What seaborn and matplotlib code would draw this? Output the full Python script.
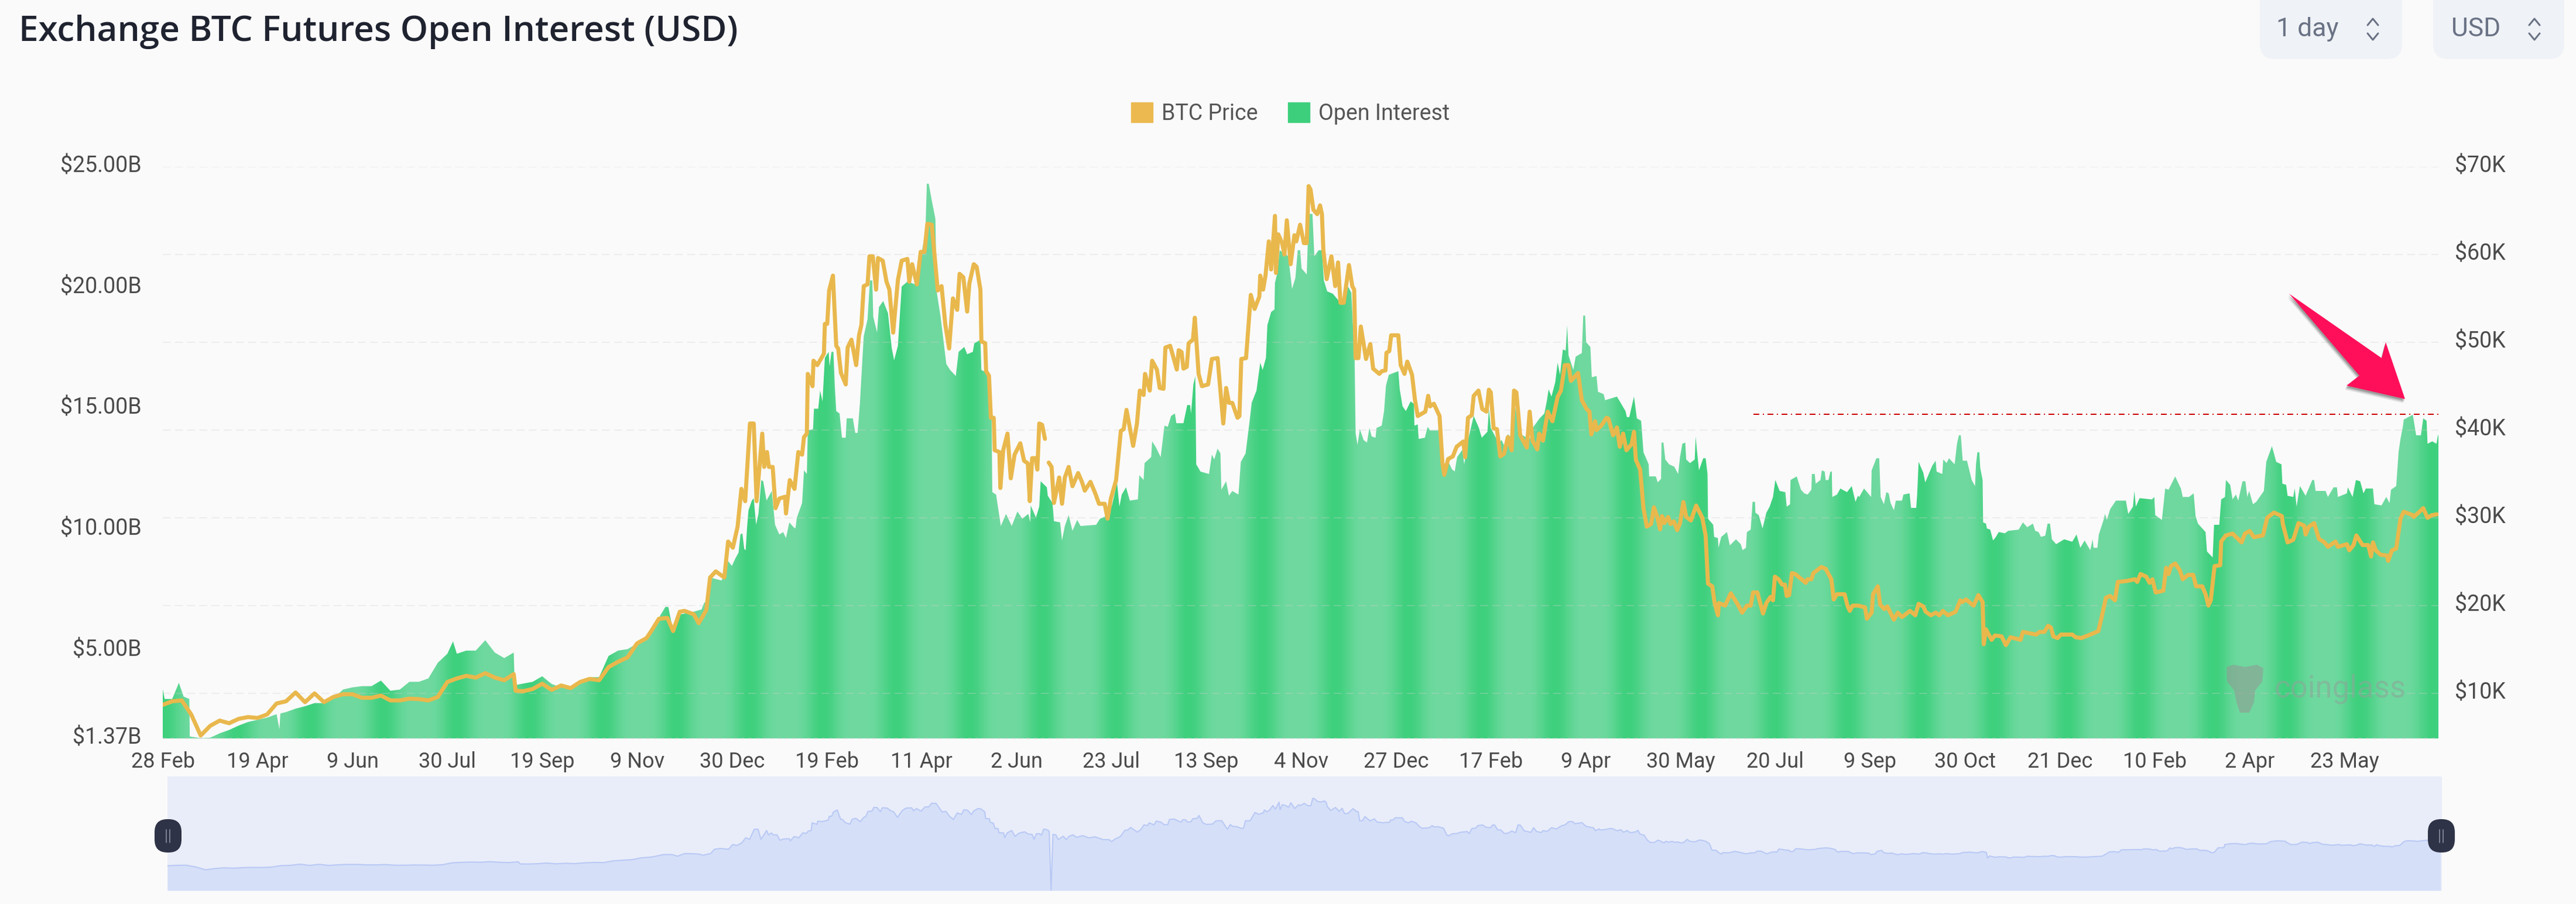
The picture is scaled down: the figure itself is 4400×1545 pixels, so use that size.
import numpy as np
import pandas as pd
import seaborn as sns
import matplotlib.pyplot as plt
from matplotlib.patches import FancyBboxPatch, Patch, Polygon
from matplotlib.transforms import ScaledTranslation

# x is measured in tenths of a tick interval: one labelled tick every 10 units
tick_labels = ['28 Feb', '19 Apr', '9 Jun', '30 Jul', '19 Sep', '9 Nov', '30 Dec', '19 Feb',
               '11 Apr', '2 Jun', '23 Jul', '13 Sep', '4 Nov', '27 Dec', '17 Feb', '9 Apr',
               '30 May', '20 Jul', '9 Sep', '30 Oct', '21 Dec', '10 Feb', '2 Apr', '23 May']
left_ticks = [1.37, 5, 10, 15, 20, 25]
left_labels = ['$1.37B', '$5.00B', '$10.00B', '$15.00B', '$20.00B', '$25.00B']
right_ticks = [10, 20, 30, 40, 50, 60, 70]
right_labels = ['$10K', '$20K', '$30K', '$40K', '$50K', '$60K', '$70K']
oi_level = 14.78

oi_t = [0, 0.2, 1, 1.7, 2.2, 2.8, 2.85, 4, 5, 6, 7, 8, 9, 10, 11, 12, 12.3, 12.4, 13, 14,
        15, 16, 17, 18, 19, 20, 21, 22, 23, 24, 25, 26, 27, 28, 29, 30, 30.6, 31, 32, 33,
        34, 35, 36, 37, 37.1, 39, 40, 41, 42, 43, 44, 45, 46, 47, 48, 49, 50, 51, 52, 53,
        53.3, 53.8, 54.6, 55.9, 56.8, 57.1, 57.45, 57.9, 58.9, 59.2, 59.6, 60, 60.35, 60.7, 60.9, 61.1, 61.3, 61.45, 61.6, 61.75,
        62.1, 62.3, 62.55, 62.8, 63.1, 63.3, 63.65, 64.2, 64.55, 65, 65.4, 65.7, 66.05, 66.5, 66.7, 66.85, 67.4, 67.6, 67.9, 68,
        68.55, 68.65, 69.1, 69.3, 69.55, 69.8, 70.2, 70.3, 70.5, 70.7, 70.85, 71, 71.35, 71.6, 72, 72.1, 72.75, 73, 73.25, 73.5,
        73.75, 73.9, 74.3, 74.55, 74.8, 74.9, 75.3, 75.5, 75.95, 76.45, 76.85, 77.1, 77.5, 77.9, 78.5, 79.65, 80.05, 80.4, 80.55, 80.75,
        81.05, 81.45, 81.6, 82, 82.6, 83, 83.6, 83.9, 84.5, 84.8, 85.4, 85.55, 86.2, 86.3, 86.8, 87.35, 87.45, 87.85, 88.35, 88.9,
        89.5, 90.1, 90.6, 91.25, 91.45, 91.5, 92.05, 92.4, 92.55, 93.2, 93.3, 93.8, 93.95, 94.6, 94.8, 95.1, 95.5, 95.9, 96.4, 96.75,
        98.4, 98.8, 99.7, 100.1, 100.6, 100.85, 101.1, 101.55, 101.95, 102.8, 102.95, 103.4, 103.5, 104.2, 104.3, 104.7, 105.2, 105.6, 105.95, 106.3,
        106.7, 106.85, 107.6, 108, 108.3, 108.4, 108.65, 108.85, 108.95, 109.4, 110.3, 110.6, 110.85, 111.2, 111.5, 111.6, 112.1, 112.4, 112.75, 113.4,
        113.65, 114.15, 114.55, 114.8, 115.3, 115.7, 115.95, 116.3, 116.45, 116.85, 117.2, 117.25, 117.5, 117.75, 118.65, 119.05, 119.4, 119.65, 119.9, 120.05,
        120.6, 120.8, 121.2, 121.4, 121.85, 122.2, 122.4, 122.75, 123.35, 124, 124.65, 124.95, 125.3, 125.65, 125.75, 125.95, 126.2, 126.6, 126.95, 127.2,
        127.45, 127.85, 127.95, 128.5, 128.75, 128.95, 129.25, 130.25, 130.4, 130.7, 131.05, 131.55, 131.9, 131.95, 132.3, 132.4, 133.05, 133.35, 133.6, 134.45,
        134.6, 134.9, 135.3, 135.55, 135.9, 136.2, 136.45, 137, 137.2, 137.6, 138.2, 138.75, 139.05, 139.65, 139.8, 140, 140.8, 141.15, 141.55, 141.8,
        142.3, 142.6, 142.95, 143.35, 144.1, 144.5, 145.15, 145.65, 145.9, 146.1, 146.4, 146.8, 147.05, 147.3, 147.6, 147.9, 148.05, 148.2, 148.7, 148.95,
        149.6, 149.75, 149.95, 150.05, 150.5, 150.65, 151.15, 151.3, 151.9, 152.05, 153.3, 154.2, 154.35, 154.6, 155.1, 155.4, 155.85, 156.1, 156.65, 156.7,
        157.4, 157.6, 157.95, 158, 158.2, 158.4, 158.8, 159.35, 159.75, 159.95, 160.2, 160.5, 160.6, 161, 161.5, 161.6, 161.75, 161.95, 162.4, 162.65,
        162.85, 162.9, 163.45, 163.55, 163.95, 164, 164.3, 164.9, 165.2, 165.85, 166.35, 166.55, 166.9, 167, 167.4, 167.6, 167.85, 167.9, 168.25, 168.65,
        169.05, 169.4, 169.75, 170, 170.45, 171.05, 171.2, 171.55, 171.6, 172.25, 172.7, 173.05, 173.4, 173.8, 173.85, 174.15, 174.25, 174.75, 174.9, 175.2,
        175.3, 175.6, 175.8, 175.95, 176, 176.5, 176.85, 177.55, 178.05, 178.45, 178.7, 178.85, 179.35, 180.1, 180.15, 180.65, 180.95, 181.1, 181.45, 181.7,
        181.95, 182.15, 182.5, 182.7, 183.35, 183.5, 184.15, 184.3, 184.85, 184.95, 185.1, 185.6, 185.8, 186.55, 186.9, 187, 187.6, 187.7, 188.05, 188.3,
        188.9, 189.15, 189.35, 189.55, 189.75, 190.2, 190.7, 191.05, 191.15, 191.3, 191.5, 191.6, 191.85, 191.9, 192.2, 192.3, 192.65, 192.95, 193.25, 193.55,
        194.2, 194.55, 195.65, 196.1, 196.55, 197.15, 197.4, 197.75, 198, 198.45, 198.7, 198.95, 199.15, 199.6, 200.45, 201.3, 201.75, 202.15, 202.6, 203.2,
        203.45, 203.55, 203.95, 204.1, 204.6, 204.75, 204.95, 205.3, 205.9, 206.95, 207.2, 207.7, 207.85, 208, 208.4, 209.7, 209.95, 210.05, 210.75, 211.1,
        211.45, 212.15, 212.75, 212.95, 213.6, 214.1, 214.3, 214.55, 215.35, 215.5, 216.1, 216.25, 216.8, 217, 217.4, 217.5, 217.95, 218.2, 218.55, 218.8,
        219.25, 219.55, 219.75, 219.95, 220.35, 220.7, 221.5, 221.75, 222.35, 222.8, 223.35, 223.45, 223.85, 224, 224.6, 224.75, 224.95, 225.3, 225.9, 226.6,
        226.8, 226.95, 228, 228.25, 228.85, 229.2, 229.3, 230.25, 230.35, 230.85, 231.2, 231.65, 232, 232.25, 233, 233.15, 233.9, 234.4, 234.75, 234.9,
        235.45, 235.7, 235.9, 236.15, 236.25, 237.2, 237.55, 238.05, 238.3, 238.65, 238.75, 239.25, 239.7, 239.85, 239.9]

oi_b = [3.4, 3.0, 3.0, 3.67, 3.1, 3.0, 1.45, 1.38, 1.4, 1.58, 1.72, 1.9, 2.05, 2.14, 2.23, 2.37, 1.75, 2.4, 2.46, 2.6,
        2.7, 2.83, 2.83, 3.02, 3.39, 3.48, 3.53, 3.53, 3.76, 3.34, 3.39, 3.71, 3.71, 3.85, 4.5, 4.87, 5.38, 4.87, 5.0, 5.0,
        5.43, 4.92, 4.69, 4.92, 3.57, 3.71, 3.94, 3.62, 3.48, 3.44, 3.71, 3.9, 3.9, 4.78, 5.0, 5.06, 5.29, 5.43, 6.17, 6.81,
        6.8, 5.8, 6.5, 6.6, 6.7, 7.0, 6.9, 8.0, 7.9, 8.1, 8.7, 8.5, 8.8, 9.05, 9.8, 9.85, 9.2, 9.15, 10.1, 10.8,
        11.2, 11.3, 10.2, 10.65, 12.05, 12, 11.2, 11.6, 10.2, 9.8, 9.9, 9.65, 10.3, 10.1, 10.05, 10.5, 11.1, 12.45, 12.3, 14.1,
        14.15, 15, 15, 15.75, 15.3, 17.1, 17.35, 16.75, 17.35, 17.35, 15.9, 14.9, 14.8, 13.8, 13.8, 14.6, 14.6, 14, 14, 15.25,
        17, 18, 18.7, 20.3, 20.3, 18.8, 18.15, 19.2, 19.45, 18.95, 17.5, 17, 17.6, 20.05, 20.25, 20.1, 21.55, 22.35, 24.3, 24.3,
        23.65, 22.85, 19.8, 18.8, 16.85, 16.6, 16.35, 17.35, 17.55, 17.25, 17.35, 17.7, 17.85, 16.6, 16.5, 15.6, 11.55, 11.45, 10.15, 10.65,
        10.15, 10.75, 10.45, 10.65, 10.3, 11.0, 10.5, 10.95, 12, 11.75, 11.4, 11.1, 10.35, 10.3, 9.55, 10.15, 10.6, 9.95, 10.4, 10.15,
        10.2, 10.45, 10.6, 11.05, 11.95, 10.95, 11.45, 11.75, 11.2, 11.25, 12.25, 12.05, 12.75, 13, 13.65, 13.4, 13, 14.3, 14.25, 14.7,
        14.8, 14.4, 14.4, 15.15, 15.15, 14.8, 16, 16.35, 12.7, 12.4, 12.3, 13.1, 12.9, 13.35, 13.15, 11.65, 12, 11.4, 11.6, 11.45,
        12.8, 13.15, 14.4, 15.25, 15.75, 16.9, 16.6, 17.1, 18.45, 19, 19.1, 20.2, 20.6, 21.55, 21.3, 19.95, 20.4, 21.55, 21.55, 20.8,
        20.55, 23.05, 23.05, 21.3, 21.55, 21.55, 20.3, 19.85, 19.75, 19.45, 19.4, 20.05, 19.8, 17, 14, 13.5, 14.15, 13.7, 13.6, 14.2,
        13.85, 13.8, 14.2, 14.3, 14.9, 15.95, 16.4, 16.55, 15.8, 15.1, 14.9, 15.3, 15.2, 14.3, 14.35, 13.75, 13.8, 14.25, 14.1, 14.1,
        14.4, 12.35, 12.3, 12.8, 12.5, 12.4, 13, 13.3, 12.7, 13.7, 14.7, 14.2, 13.8, 14.05, 15, 14.2, 13.6, 13.7, 13.35, 13.95,
        13.75, 15.05, 14.2, 13.9, 13.75, 14.25, 14.6, 14.8, 15.3, 15.8, 15.5, 16.1, 16.9, 16.4, 17.45, 17.4, 18.45, 17.2, 16.6, 17.15,
        17.3, 18.85, 18.85, 17.75, 17.55, 16.3, 16.35, 15.7, 15.6, 15.35, 15.5, 14.9, 14.65, 14.65, 15.5, 14.6, 14.5, 13.2, 12.7, 12.2,
        12.2, 11.95, 12.1, 13.6, 13.6, 12.9, 12.7, 12.6, 12.3, 13, 13.55, 13.6, 12.9, 12.75, 12.9, 13.85, 13.2, 12.45, 12.95, 12.95,
        12.3, 10.45, 10.2, 9.7, 9.65, 9.25, 9.7, 9.9, 9.35, 9.6, 9.4, 9.15, 9.25, 9.9, 10, 11.15, 11.15, 10.7, 10.6, 10.05,
        10.7, 10.95, 11.35, 12.05, 11.6, 11.55, 10.95, 11.05, 12.05, 12.2, 11.65, 11.5, 11.45, 11.65, 12.3, 12.3, 11.9, 12.05, 12.45, 12.4,
        12.05, 12.05, 12.4, 12.4, 11.35, 11.45, 11.7, 11.55, 11.8, 11.15, 11.4, 11.35, 11.7, 11.35, 12.45, 12.95, 12.95, 11.35, 11.05, 11.55,
        11.5, 11.1, 10.8, 11.2, 11.2, 11.45, 11.5, 10.9, 10.9, 11.45, 12.8, 12.35, 11.95, 12.65, 12.85, 12.4, 12.3, 12.9, 12.75, 12.95,
        12.7, 13.55, 13.9, 13.9, 12.85, 12.85, 12.05, 11.8, 12.7, 13.2, 13.2, 12.55, 12.05, 10.3, 10.25, 10.05, 10, 9.55, 9.7, 9.9,
        9.85, 9.95, 10, 10.3, 10.1, 10.25, 9.95, 9.9, 9.7, 9.75, 10.25, 10.25, 9.6, 9.4, 9.6, 9.5, 9.8, 9.25, 9.55, 9.15,
        9.6, 9.25, 9.25, 9.8, 10.4, 10.65, 10.4, 10.85, 11.2, 11.2, 10.65, 10.95, 11.6, 10.95, 11.3, 11.25, 11.35, 10.6, 10.4, 11.7,
        11.65, 12.2, 11.7, 11.35, 11.35, 11.5, 10.55, 10.25, 9.9, 9.1, 8.85, 10.2, 10.2, 11.25, 11.35, 12.05, 11.85, 11.25, 11.45, 11.2,
        12, 12, 11.35, 11.6, 11.05, 11.15, 11.6, 12.8, 13.45, 12.8, 12.7, 11.9, 11.85, 11.4, 11.35, 11.7, 10.95, 11.8, 11.4, 12.05,
        12.05, 11.6, 11.6, 11.35, 11.75, 11.75, 11.35, 11.5, 11.75, 11.35, 12.05, 12, 11.5, 11.7, 11.7, 11.05, 11, 11.35, 11.1, 11.65,
        11.8, 13.2, 13.75, 14.25, 14.55, 14.75, 13.9, 13.9, 14.6, 14.5, 13.55, 13.65, 13.55, 13.9, 13.9]

# None marks the day with no price, where the line breaks
price_t = [0, 1, 2, 3, 4, 5, 6, 7, 8, 9, 10, 11, 12, 13, 14, 15, 16, 17, 18, 19,
           20, 21, 22, 23, 24, 25, 26, 27, 28, 29, 30, 31, 32, 33, 34, 35, 36, 37, 37.2, 38,
           39, 40, 41, 42, 43, 44, 45, 46, 47, 48, 49, 50, 51, 51.5, 52.3, 53.2, 53.8, 54.5, 55, 56,
           56.5, 57.3, 57.7, 58.3, 59.2, 59.6, 60.1, 60.6, 61, 61.4, 61.9, 62.3, 62.6, 63.2, 63.4, 63.7, 63.9, 64.3, 64.6, 65,
           65.6, 65.7, 66.1, 66.6, 67, 67.4, 67.6, 67.9, 68, 68.5, 68.6, 69, 69.7, 69.8, 70.05, 70.25, 70.65, 71, 71.2, 71.5,
           72, 72.2, 72.6, 73.1, 73.4, 73.65, 73.9, 74.3, 74.5, 74.85, 75.2, 75.4, 75.9, 76.3, 76.6, 77, 77.5, 77.9, 78.5, 78.7,
           79, 79.5, 79.9, 80.3, 80.6, 81.07, 81.7, 82.1, 82.5, 82.9, 83.3, 83.75, 84, 84.4, 84.8, 85.03, 85.5, 85.8, 86.2, 86.3,
           86.7, 86.8, 87.1, 87.3, 87.6, 87.7, 88.2, 88.3, 88.6, 89.05, 89.4, 89.8, 90.4, 90.8, 91.2, 91.4, 91.65, 92, 92.2, 92.4,
           92.7, 93, 93.2, 93.4, 93.7, 93.95, 94.5, 94.8, 95.1, 95.5, 95.9, 96.5, 96.9, 97.2, 97.8, 98.3, 98.7, 99.3, 99.6, 99.95,
           100.5, 101, 101.3, 101.6, 102.3, 102.7, 103, 103.4, 103.55, 104.05, 104.3, 104.8, 105.1, 105.5, 105.7, 106.2, 106.9, 107.1, 107.4, 107.6,
           107.95, 108.15, 108.6, 108.8, 109.2, 109.55, 110.2, 110.6, 111.2, 111.8, 112.1, 112.4, 112.75, 113.3, 113.5, 113.7, 114.2, 114.7, 115.1, 115.6,
           115.7, 116, 116.25, 116.6, 116.85, 117.25, 117.35, 117.6, 118, 118.25, 118.5, 118.9, 119.3, 119.5, 119.9, 120.3, 120.6, 120.8, 121, 121.3,
           121.7, 122, 122.2, 122.35, 122.7, 123.2, 123.6, 123.9, 124.15, 124.5, 125.05, 125.4, 125.6, 125.75, 126.05, 126.3, 126.85, 127.3, 127.6, 128.25,
           128.5, 128.9, 129, 129.3, 129.5, 130.25, 130.5, 130.9, 131.2, 131.7, 132, 132.3, 133.1, 133.4, 133.6, 134, 134.6, 134.9, 135.1, 135.5,
           136, 136.4, 137.1, 137.3, 137.6, 138, 138.2, 138.7, 139.1, 139.55, 139.8, 140, 140.3, 140.65, 141, 141.4, 141.8, 142.2, 142.45, 142.7,
           143.1, 143.8, 144.1, 144.4, 144.9, 145.1, 145.5, 146, 146.5, 147.05, 147.4, 147.8, 148.2, 148.45, 149.2, 149.6, 150.1, 150.4, 150.6, 151,
           151.15, 151.65, 152.2, 152.4, 152.9, 153.3, 153.6, 153.95, 154.3, 154.85, 155.1, 155.3, 155.75, 156.1, 156.45, 156.9, 157.2, 157.55, 157.85, 158.05,
           158.3, 158.7, 158.95, 159.3, 159.65, 159.95, 160.3, 160.6, 161.1, 161.65, 162.3, 162.65, 162.9, 163.35, 163.6, 163.95, 164.05, 164.7, 165.3, 166,
           166.5, 167, 167.4, 167.65, 168.1, 168.7, 169.05, 169.5, 169.75, 169.95, 170.35, 170.7, 171, 171.2, 171.45, 171.75, 172.1, 173.2, 173.4, 173.8,
           174, 174.85, 175.3, 175.9, 176.15, 176.5, 177.3, 177.6, 177.85, 178.15, 178.75, 179.45, 179.65, 180.15, 180.3, 180.8, 181.05, 181.5, 181.8, 182.5,
           182.9, 183.35, 184.2, 184.75, 185.1, 185.6, 185.85, 186.4, 186.9, 187.3, 187.65, 188.2, 189, 189.5, 189.7, 190.1, 190.9, 191.4, 191.85, 191.97,
           192.2, 192.8, 193.15, 193.85, 194.3, 194.8, 195.85, 196.1, 197.5, 197.85, 198.35, 198.75, 199.05, 199.3, 199.75, 200.1, 201.3, 201.65, 202.25, 203.2,
           204.05, 204.4, 204.85, 205.3, 205.8, 206.1, 207, 207.9, 208.15, 208.5, 209.1, 209.45, 209.75, 210.1, 210.9, 211.2, 211.45, 211.7, 212.15, 212.65,
           212.95, 213.5, 214.05, 214.35, 215, 215.35, 215.65, 215.9, 216.3, 216.9, 217, 217.5, 218.2, 219.15, 219.5, 220, 220.45, 221.4, 221.85, 222.55,
           223.4, 223.5, 224, 224.6, 225.15, 225.75, 225.9, 226.25, 226.8, 227.3, 227.9, 228.25, 229.05, 229.3, 230.25, 230.5, 230.95, 231.25, 231.9, 232.5,
           232.8, 233, 233.3, 233.8, 234.5, 234.6, 235, 235.45, 235.9, 236.25, 237.2, 237.3, 238.3, 238.75, 239.2, 239.75]

price_k = [8.7, 9.1, 9.2, 7.6, 5.2, 6.3, 6.9, 6.6, 7.1, 7.3, 7.2, 7.6, 8.85, 9.1, 10.1, 9.0, 10, 9, 9.6, 9.9,
           9.9, 9.5, 9.5, 9.75, 9.2, 9.2, 9.4, 9.35, 9.2, 9.6, 11.3, 11.7, 12, 11.8, 12.3, 11.8, 11.5, 12.2, 10.3, 10.25,
           10.5, 11.1, 10.4, 10.9, 10.6, 11.3, 11.65, 11.5, 13, 13.6, 14.1, 15.7, 16.3, 17.1, 18.5, 18.6, 17.1, 19.3, 19.4, 19,
           18, 19.5, 23.2, 23.9, 23.2, 27.3, 26.6, 29, 33.3, 31.9, 40.75, 40.75, 31.9, 39.6, 35.8, 37.5, 35.8, 35.8, 31.1, 32.2,
           32.4, 30.5, 34.3, 33.3, 37.5, 37.2, 39.2, 39.6, 46.4, 45, 47.9, 47.4, 48.7, 52.1, 52.1, 55.9, 57.6, 49.6, 49.3, 46.5,
           45.2, 49.4, 50.3, 47.4, 50.8, 52, 56.4, 56.6, 59.8, 59.8, 56, 59.6, 59.3, 56.9, 56, 51.1, 57.1, 59.3, 59.5, 56.9,
           58.9, 56.6, 60.3, 60.3, 63.5, 63.4, 55.9, 56.4, 52, 49.3, 55, 53.7, 57.8, 57.4, 53.5, 56.7, 58.9, 58.6, 56, 50.1,
           49.9, 46.7, 46.2, 41.4, 41.4, 37.7, 37.5, 33.4, 37.7, 39.6, 34.5, 37.2, 38.5, 36.5, 36.2, 31.9, 36.8, 36.8, 35.5, 40.75,
           40.6, 39, None, 36.3, 35.8, 31.7, 34.6, 31.6, 34.6, 35.8, 33.6, 35.1, 34.1, 33.1, 34.1, 32.8, 31.6, 31.6, 29.9, 32.2,
           34.3, 39.9, 40.1, 42.3, 38.2, 40.75, 44.5, 44, 46.4, 44.5, 47.9, 46.9, 44.8, 44.7, 49.4, 49.6, 46.9, 49.1, 48.9, 47,
           47.2, 49.9, 50.3, 52.8, 46.4, 45, 45.2, 48.1, 48.2, 40.75, 44.8, 43.1, 43.1, 41.4, 41.6, 48.1, 48.2, 55.4, 53.8, 55.2,
           57.6, 56, 57.6, 61.5, 58.3, 64.4, 57.9, 62.3, 61.3, 60, 63.9, 58.9, 62.2, 61.5, 63.4, 61.3, 61.3, 67.8, 67.4, 65.1,
           64.6, 65.6, 64.6, 60.5, 57.2, 59.8, 56.4, 59.1, 54.5, 54.5, 58.8, 56.4, 56, 48.2, 48.2, 51.8, 48.1, 49.8, 47, 46.4,
           46.7, 46.8, 48.8, 49, 50.8, 50.8, 47.4, 46.4, 47.8, 46.3, 43.5, 41.6, 42.1, 43.9, 42.7, 43, 41.6, 36.3, 34.9, 36.7,
           37, 38.1, 38.7, 36.9, 41.4, 41.7, 43.9, 44.5, 42.4, 42.1, 44.6, 44.3, 40.2, 40.1, 37, 37.3, 39.2, 37.7, 44.5, 44.3,
           39.4, 38, 42.1, 38.8, 37.8, 39.6, 38.8, 42.1, 41, 43.8, 44.5, 47.4, 47.4, 45.6, 46.5, 43.4, 42.4, 42.1, 39.5, 41,
           40, 40.5, 41.4, 41.3, 39.4, 40.3, 38.1, 39.6, 37.7, 38.4, 39.8, 36.6, 35.5, 31.1, 29, 29.3, 31.2, 30.1, 28.7, 30.2,
           29.4, 30.1, 29.3, 29.6, 28.6, 29.4, 31.8, 30.1, 29.7, 31.4, 30, 28, 22.5, 22.2, 20.3, 18.9, 20.3, 20, 21.4, 20.2,
           19.2, 20, 20, 21.5, 21.5, 19.1, 20.3, 21, 20.6, 23.3, 23, 22.4, 22.4, 21.1, 21.2, 23.7, 23.6, 22.6, 23, 23,
           23.7, 24.4, 24.2, 23, 20.7, 21.3, 21.3, 20, 19.4, 20, 20, 19.8, 18.5, 19.2, 21.3, 22.2, 20.1, 19.6, 19.9, 18.4,
           19.2, 18.7, 19.4, 18.9, 20.2, 19.9, 19.3, 18.9, 19.2, 18.9, 19.4, 18.9, 19.3, 20.6, 20.4, 20.7, 20, 21.2, 20.4, 15.6,
           17.3, 16.1, 16.6, 16.5, 15.5, 16.4, 16.1, 17, 16.7, 17, 17, 17.7, 17.5, 16.5, 16.3, 16.7, 16.7, 16.4, 16.3, 16.7,
           17.1, 18.7, 20.9, 21.1, 20.6, 22.7, 22.8, 23, 22.7, 23.6, 23.3, 22.6, 23, 21.5, 21.7, 24.3, 23.6, 24.5, 24.8, 24,
           23, 23.5, 23.5, 22.2, 22.2, 21.3, 20, 20.6, 24.5, 24.6, 27.3, 28, 28.2, 27.2, 28.2, 28.5, 27.8, 28, 30, 30.6,
           30.2, 29.3, 27.2, 27.5, 29.4, 29.1, 28.1, 29, 29.4, 27.6, 27.2, 26.7, 27.3, 26.7, 27, 26.3, 26.9, 28, 26.9, 26.9,
           25.6, 27.2, 26.3, 25.8, 25.7, 25.1, 26.3, 26.5, 29.9, 30.7, 30.3, 30.1, 31.1, 30, 30.3, 30.4]

sns.set_theme(style='white', rc={'axes.facecolor': 'none', 'figure.facecolor': '#fafafa',
                                 'savefig.facecolor': '#fafafa', 'axes.linewidth': 0})
plt.rcParams['font.family'] = ['Roboto', 'DejaVu Sans']

W, H = 4400, 1545
x_end = 239.9
fig = plt.figure(figsize=(W / 100, H / 100), dpi=100)
ax = fig.add_axes([278 / W, 1 - 1262 / H, (4165 - 278) / W, (1262 - 285) / H])
ax2 = ax.twinx()
label_color = '#4a4a4a'

price = pd.DataFrame({'t': price_t, 'price': price_k}).astype(float)
price['segment'] = price['price'].isna().cumsum()

# open interest: striped green area (moire of the thin bars in the original)
stripe_t = np.linspace(0, x_end, 3000)
mix = np.abs(np.cos(np.pi * (stripe_t - 0.1) / 7.72)) ** 4
light = np.array([112, 217, 160]) / 255
dark = np.array([62, 208, 125]) / 255
stripes = (light + mix[:, None] * (dark - light))[None, :, :]
area = ax.fill_between(oi_t, oi_b, 1.37, facecolor='none', edgecolor='none')
im = ax.imshow(stripes, extent=(0, x_end, 1.37, 25), aspect='auto', zorder=2)
im.set_clip_path(area.get_paths()[0], ax.transData)

ax.set_xlim(0, x_end)
ax.set_ylim(1.37, 25)
ax.set_xticks(np.arange(len(tick_labels)) * 10, tick_labels)
ax.set_yticks(left_ticks, left_labels)
ax.tick_params(axis='x', length=0, pad=16, labelsize=26, labelcolor=label_color)
ax.tick_params(axis='y', length=0, pad=26, labelsize=27, labelcolor=label_color)
ax.grid(False)

sns.lineplot(data=price.dropna(), x='t', y='price', units='segment', estimator=None, sort=False,
             color='#e9b84d', linewidth=5, ax=ax2, legend=False, zorder=5)
ax2.set_ylim(4.87, 70)
ax2.set_xlim(0, x_end)
ax2.set_yticks(right_ticks, right_labels)
ax2.set_xlabel('')
ax2.set_ylabel('')
ax2.tick_params(axis='y', length=0, pad=20, labelsize=27, labelcolor=label_color)
ax2.yaxis.grid(True, color='#d0d0d0', alpha=0.3, linewidth=1.5, linestyle=(0, (6.5, 3.5)))
ax2.axhline(4.87, color='#d0d0d0', alpha=0.5, linewidth=1.5, linestyle=(0, (3, 3)), clip_on=False)
ax2.set_axisbelow(False)

# the y labels sit a few pixels above their gridlines in the original
label_shift = ScaledTranslation(0, 5 / 100, fig.dpi_scale_trans)
for lbl in ax.get_yticklabels() + ax2.get_yticklabels():
    lbl.set_transform(lbl.get_transform() + label_shift)

# reference level, read on the open interest scale
ax.hlines(oi_level, 167.7, x_end, color='#cc0000', linewidth=1.44,
          linestyle=(0, (5, 3, 1, 3)), zorder=4)

fig.legend(handles=[Patch(color='#ebb94f', label='BTC Price'), Patch(color='#3ecf7d', label='Open Interest')],
           loc='center', bbox_to_anchor=(2204 / W, 1 - 194 / H), ncol=2, frameon=False, fontsize=27,
           handlelength=1.0, handleheight=1.0, handletextpad=0.4, columnspacing=1.35, labelcolor='#555555')

# overview strip under the chart: same price series, the missing day falls to the floor
ax3 = fig.add_axes([286 / W, 1 - 1522 / H, (4171 - 286) / W, (1522 - 1327) / H])
overview = price.fillna({'price': -13})
ax3.fill_between(overview['t'], overview['price'], -13, color='#d5dff8', linewidth=0)
sns.lineplot(data=overview, x='t', y='price', estimator=None, sort=False, color='#b9c9f5',
             linewidth=1.5, ax=ax3, legend=False)
ax3.set_xlim(0, x_end)
ax3.set_ylim(-13, 87)
ax3.set_axis_off()
ax3.add_patch(plt.Rectangle((0, 0), 1, 1, transform=ax3.transAxes, color='#e9edf9', zorder=0))

# everything that is page furniture, in pixels of the full image
page = fig.add_axes([0, 0, 1, 1])
page.set_xlim(0, W)
page.set_ylim(H, 0)
page.set_axis_off()

page.text(32, 54, 'Exchange BTC Futures Open Interest (USD)', family=['Open Sans', 'DejaVu Sans'],
          fontsize=43.4, fontweight=600, color='#1f2330', va='center', ha='left')

for x0, x1, txt, tx, cx in [(3860, 4103, '1 day', 3888, 4053), (4156, 4380, 'USD', 4187, 4329)]:
    page.add_patch(FancyBboxPatch((x0, -20), x1 - x0, 121, boxstyle='round,pad=0,rounding_size=26',
                                  facecolor='#eff2f6', edgecolor='none', mutation_aspect=1))
    page.text(tx, 50, txt, fontsize=32, color='#6a7285', va='center', ha='left')
    page.plot([cx - 9, cx, cx + 9], [43, 32, 43], color='#6a7285', linewidth=2.2)
    page.plot([cx - 9, cx, cx + 9], [57, 68, 57], color='#6a7285', linewidth=2.2)

arrow = np.array([[3910, 502], [4068, 612], [4075, 585], [4108, 682], [4008, 659], [4030, 642]])
for off, alpha in [(7, 0.12), (5, 0.2), (3, 0.3)]:
    page.add_patch(Polygon(arrow + [-off * 0.4, off], closed=True, facecolor='#444444', edgecolor='none', alpha=alpha))
page.add_patch(Polygon(arrow, closed=True, facecolor='#ff0f5a', edgecolor='none'))

logo = [[3803, 1140], [3815, 1136], [3835, 1140], [3855, 1136], [3866, 1142], [3864, 1165], [3852, 1180],
        [3850, 1200], [3842, 1218], [3826, 1218], [3820, 1200], [3816, 1180], [3804, 1165]]
page.add_patch(Polygon(logo, closed=True, facecolor='#909c94', edgecolor='none', alpha=0.6))
page.text(3885, 1177, 'coinglass', fontsize=38, color='#8aa898', alpha=0.6, va='center', ha='left')

for hx in [287, 4170]:
    page.add_patch(FancyBboxPatch((hx - 23, 1400), 46, 57, boxstyle='round,pad=0,rounding_size=22',
                                  facecolor='#2e3347', edgecolor='none'))
    page.plot([hx - 3, hx - 3], [1418, 1440], color='#8c90a0', linewidth=1.2)
    page.plot([hx + 3, hx + 3], [1418, 1440], color='#8c90a0', linewidth=1.2)

fig.savefig('out.png', dpi=100)
